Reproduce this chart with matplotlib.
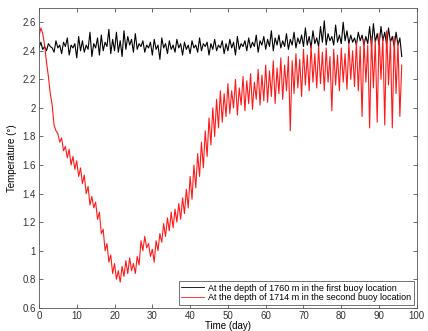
import numpy as np
import matplotlib
matplotlib.use("Agg")
import matplotlib.pyplot as plt

# sampling every half day, from day 0 to day 96
step_days = 0.5

# temperature at 1760 m, first buoy (black)
temp_buoy1 = [
    2.42, 2.46, 2.41, 2.43, 2.40, 2.45, 2.43, 2.42, 2.39, 2.47,
    2.42, 2.44, 2.38, 2.46, 2.43, 2.49, 2.37, 2.44, 2.42, 2.45,
    2.35, 2.50, 2.40, 2.47, 2.39, 2.44, 2.41, 2.53, 2.36, 2.45,
    2.42, 2.49, 2.37, 2.51, 2.40, 2.46, 2.43, 2.55, 2.38, 2.48,
    2.40, 2.53, 2.39, 2.47, 2.36, 2.54, 2.41, 2.50, 2.44, 2.48,
    2.39, 2.52, 2.41, 2.45, 2.43, 2.47, 2.39, 2.44, 2.42, 2.46,
    2.37, 2.48, 2.41, 2.44, 2.34, 2.49, 2.42, 2.45, 2.38, 2.47,
    2.41, 2.44, 2.39, 2.48, 2.42, 2.45, 2.37, 2.46, 2.41, 2.44,
    2.38, 2.47, 2.42, 2.44, 2.39, 2.49, 2.40, 2.45, 2.43, 2.46,
    2.37, 2.45, 2.41, 2.48, 2.40, 2.44, 2.42, 2.47, 2.38, 2.45,
    2.40, 2.48, 2.42, 2.46, 2.37, 2.50, 2.41, 2.45, 2.43, 2.47,
    2.40, 2.49, 2.42, 2.46, 2.43, 2.51, 2.39, 2.47, 2.44, 2.50,
    2.41, 2.48, 2.43, 2.54, 2.40, 2.49, 2.44, 2.51, 2.42, 2.47,
    2.43, 2.52, 2.41, 2.48, 2.44, 2.53, 2.42, 2.49, 2.45, 2.51,
    2.43, 2.56, 2.44, 2.50, 2.42, 2.54, 2.45, 2.49, 2.43, 2.57,
    2.46, 2.61, 2.44, 2.52, 2.47, 2.50, 2.44, 2.58, 2.46, 2.51,
    2.45, 2.60, 2.47, 2.54, 2.45, 2.51, 2.46, 2.49, 2.44, 2.53,
    2.47, 2.51, 2.44, 2.50, 2.45, 2.57, 2.43, 2.59, 2.46, 2.52,
    2.44, 2.57, 2.47, 2.53, 2.44, 2.56, 2.46, 2.50, 2.43, 2.53,
    2.44, 2.49, 2.36,
]

# temperature at 1714 m, second buoy (red)
temp_buoy2 = [
    2.50, 2.56, 2.52, 2.44, 2.32, 2.22, 2.10, 2.02, 1.88, 1.84,
    1.82, 1.76, 1.79, 1.70, 1.73, 1.65, 1.71, 1.60, 1.66, 1.57,
    1.63, 1.52, 1.58, 1.47, 1.53, 1.40, 1.45, 1.32, 1.38, 1.30,
    1.34, 1.22, 1.27, 1.12, 1.15, 1.00, 1.05, 0.92, 0.97, 0.84,
    0.91, 0.80, 0.86, 0.78, 0.89, 0.82, 0.93, 0.84, 0.95, 0.86,
    0.91, 0.84, 0.96, 0.90, 1.07, 1.00, 1.10, 1.02, 1.05, 0.96,
    1.01, 0.92, 1.07, 1.00, 1.12, 1.06, 1.19, 1.10, 1.23, 1.14,
    1.27, 1.16, 1.29, 1.20, 1.33, 1.22, 1.37, 1.26, 1.43, 1.30,
    1.52, 1.36, 1.60, 1.44, 1.68, 1.52, 1.76, 1.58, 1.84, 1.66,
    1.93, 1.74, 2.00, 1.80, 2.06, 1.86, 2.12, 1.90, 2.10, 1.94,
    2.17, 1.96, 2.12, 2.00, 2.20, 1.95, 2.14, 2.02, 2.22, 1.98,
    2.19, 2.03, 2.24, 1.99, 2.18, 2.06, 2.27, 2.02, 2.23, 2.05,
    2.30, 2.04, 2.26, 2.08, 2.33, 2.03, 2.28, 2.10, 2.35, 2.06,
    2.30, 2.12, 2.36, 1.84, 2.33, 2.10, 2.38, 2.14, 2.34, 2.08,
    2.41, 2.16, 2.37, 2.12, 2.44, 2.18, 2.38, 2.14, 2.43, 2.17,
    2.39, 2.12, 2.42, 2.18, 2.36, 1.98, 2.41, 2.16, 2.37, 2.12,
    2.42, 2.18, 2.38, 2.13, 2.45, 2.20, 2.40, 2.15, 2.46, 2.12,
    2.43, 1.94, 2.48, 2.18, 2.44, 1.86, 2.50, 2.14, 2.47, 1.90,
    2.52, 2.20, 2.49, 1.88, 2.54, 2.16, 2.47, 1.86, 2.50, 2.10,
    2.46, 1.94, 2.30,
]

labels = ["At the depth of 1760 m in the first buoy location",
          "At the depth of 1714 m in the second buoy location"]

days1 = np.arange(len(temp_buoy1)) * step_days
days2 = np.arange(len(temp_buoy2)) * step_days

plt.rcParams['font.family'] = ['Liberation Sans', 'DejaVu Sans']
fig = plt.figure(figsize=(4.28, 3.31), dpi=100)
ax = fig.add_axes([0.091, 0.070, 0.883, 0.906])

ax.plot(days1, temp_buoy1, color='black', lw=0.8, label=labels[0])
ax.plot(days2, temp_buoy2, color='#ff1a1a', lw=0.8, label=labels[1])

ax.set_xlim(0, 100)
ax.set_ylim(0.6, 2.7)
ax.set_xticks(np.arange(0, 101, 10))
ax.set_yticks(np.arange(0.6, 2.61, 0.2))
ax.set_yticklabels(['0.6', '0.8', '1', '1.2', '1.4', '1.6', '1.8', '2', '2.2', '2.4', '2.6'])
ax.tick_params(direction='in', length=3, width=0.5, labelsize=7, colors='#333333',
               top=True, right=True, pad=2)
for s in ax.spines.values():
    s.set_linewidth(0.6)
    s.set_color('#555555')

ax.set_xlabel('Time (day)', fontsize=7, labelpad=0)
ax.set_ylabel('Temperature (°)', fontsize=7, labelpad=4)

leg = ax.legend(loc='lower right', fontsize=6.5, frameon=True, fancybox=False,
                edgecolor='#333333', handlelength=2.5, borderpad=0.3,
                labelspacing=0.1, borderaxespad=0.3, handletextpad=0.5)
leg.get_frame().set_linewidth(0.6)
for line in leg.get_lines():
    line.set_linewidth(0.6)

fig.savefig('out.png', dpi=100)
